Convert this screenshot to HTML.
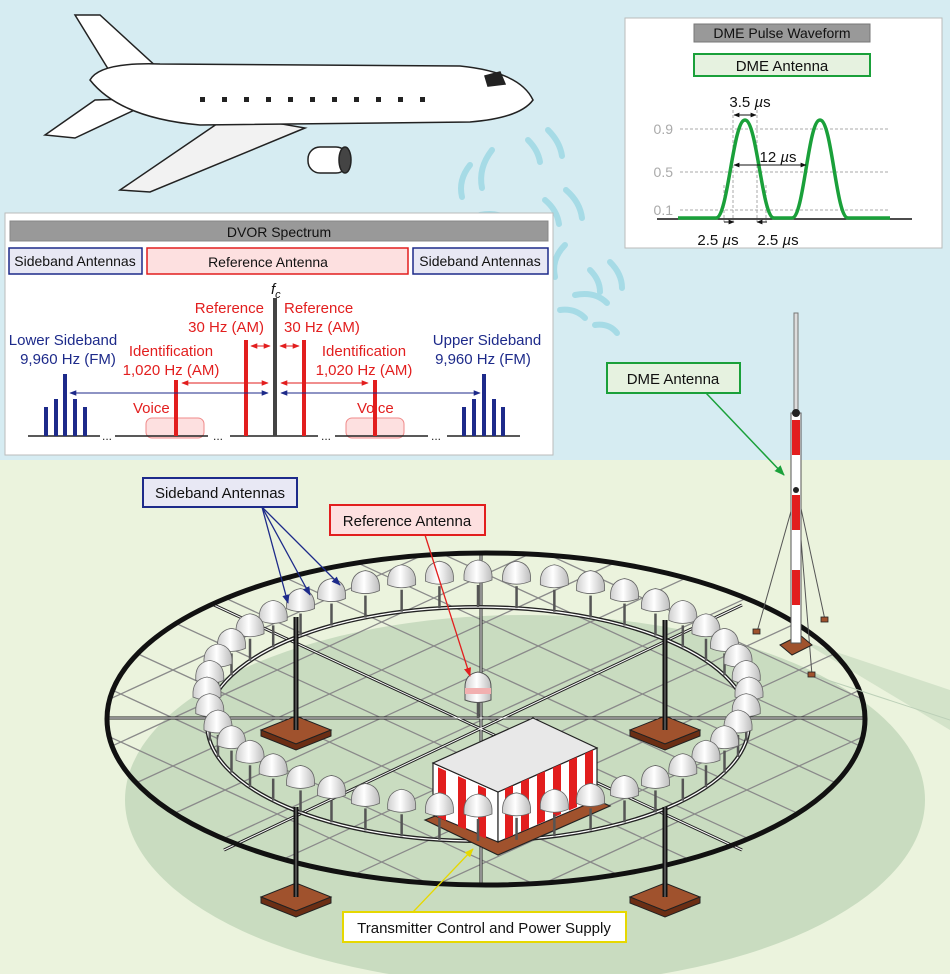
<!DOCTYPE html>
<html><head><meta charset="utf-8"><style>
html,body{margin:0;padding:0;width:950px;height:974px;overflow:hidden;}
body{font-family:"Liberation Sans",sans-serif;}
svg{display:block;}
text{font-family:"Liberation Sans",sans-serif;}
</style></head><body>
<svg id="s" width="950" height="974" viewBox="0 0 950 974" xmlns="http://www.w3.org/2000/svg">
<defs>
<marker id="ab" viewBox="0 0 10 10" refX="9" refY="5" markerWidth="7" markerHeight="7" orient="auto-start-reverse"><path d="M0,1 L10,5 L0,9 z" fill="#1d2a8a"/></marker>
<marker id="ar" viewBox="0 0 10 10" refX="9" refY="5" markerWidth="7" markerHeight="7" orient="auto-start-reverse"><path d="M0,1 L10,5 L0,9 z" fill="#e21e1e"/></marker>
<marker id="ag" viewBox="0 0 10 10" refX="9" refY="5" markerWidth="7" markerHeight="7" orient="auto-start-reverse"><path d="M0,1 L10,5 L0,9 z" fill="#1aa03a"/></marker>
<marker id="ay" viewBox="0 0 10 10" refX="9" refY="5" markerWidth="7" markerHeight="7" orient="auto-start-reverse"><path d="M0,1 L10,5 L0,9 z" fill="#e6d800"/></marker>
<marker id="ak" viewBox="0 0 10 10" refX="9" refY="5" markerWidth="6" markerHeight="6" orient="auto-start-reverse"><path d="M0,1 L10,5 L0,9 z" fill="#111"/></marker>
<clipPath id="oc"><ellipse cx="486" cy="719" rx="379" ry="166"/></clipPath>
<linearGradient id="dome" x1="0" x2="1"><stop offset="0" stop-color="#cfcfcf"/><stop offset="0.45" stop-color="#fff"/><stop offset="1" stop-color="#bdbdbd"/></linearGradient>
</defs>
<rect width="950" height="460" fill="#d6ecf2"/>
<rect y="460" width="950" height="514" fill="#ebf3dd"/>
<ellipse cx="525" cy="800" rx="400" ry="185" fill="#c9dcc0"/>
<path d="M800 640 L950 690 L950 730 Z" fill="#c9dcc0" opacity="0.7"/>
<!-- waves -->
<g fill="none" stroke="#a6dbe6" stroke-width="6" stroke-linecap="round">
<path d="M470 165 q-12 15 -8 32"/><path d="M492 150 q-14 18 -10 38"/>
<path d="M528 140 q10 10 12 22"/><path d="M548 130 q12 12 14 26"/>
<path d="M470 235 q15 -2 25 8"/><path d="M480 215 q20 -4 32 8"/>
<path d="M545 200 q12 10 14 24"/><path d="M566 190 q14 12 16 28"/>
<path d="M545 255 q-12 12 -8 28"/><path d="M565 245 q-14 14 -10 32"/>
<path d="M590 270 q10 10 10 22"/><path d="M610 262 q12 12 12 26"/>
<path d="M560 310 q15 -2 25 8"/><path d="M575 295 q20 -4 32 8"/>
<path d="M595 325 q14 -2 22 8"/>
</g>
<!-- airplane -->
<g stroke="#222" stroke-width="1.5" fill="#fff">
<path d="M230 115 L120 190 L150 192 L305 128 Z" fill="#f2f2f2"/>
<path d="M75 15 L100 15 L160 70 L110 72 Z"/>
<path d="M45 135 L95 100 L160 98 L75 138 Z"/>
<path d="M90 80 Q100 62 160 64 L460 66 Q520 72 533 100 Q520 118 470 122 L200 125 Q120 118 90 80 Z"/>
<rect x="308" y="147" width="40" height="26" rx="12"/>
<ellipse cx="345" cy="160" rx="6" ry="13" fill="#444"/>
<path d="M485 76 L500 72 L505 84 L488 86 Z" fill="#222"/>
</g>
<g fill="#222"><rect x="200" y="97" width="5" height="5"/><rect x="222" y="97" width="5" height="5"/><rect x="244" y="97" width="5" height="5"/><rect x="266" y="97" width="5" height="5"/><rect x="288" y="97" width="5" height="5"/><rect x="310" y="97" width="5" height="5"/><rect x="332" y="97" width="5" height="5"/><rect x="354" y="97" width="5" height="5"/><rect x="376" y="97" width="5" height="5"/><rect x="398" y="97" width="5" height="5"/><rect x="420" y="97" width="5" height="5"/></g>

<!-- DME box -->
<rect x="625" y="18" width="317" height="230" fill="#fff" stroke="#bbb"/>
<rect x="694" y="24" width="176" height="18" fill="#999" stroke="#777"/>
<text x="782" y="38" font-size="14" text-anchor="middle" fill="#111">DME Pulse Waveform</text>
<rect x="694" y="54" width="176" height="22" fill="#e6f2e0" stroke="#1aa03a" stroke-width="2"/>
<text x="782" y="71" font-size="15" text-anchor="middle" fill="#111">DME Antenna</text>
<g stroke="#aaa" stroke-dasharray="3,2" stroke-width="1"><line x1="680" y1="129" x2="890" y2="129"/><line x1="680" y1="172" x2="890" y2="172"/><line x1="680" y1="210" x2="890" y2="210"/><line x1="733" y1="110" x2="733" y2="222"/><line x1="757" y1="110" x2="757" y2="222"/><line x1="724" y1="185" x2="724" y2="222"/><line x1="766" y1="185" x2="766" y2="222"/></g>
<g fill="#aaa" font-size="14" text-anchor="end"><text x="673" y="134">0.9</text><text x="673" y="177">0.5</text><text x="673" y="215">0.1</text></g>
<line x1="657" y1="219" x2="912" y2="219" stroke="#111" stroke-width="1.5"/>
<path d="M678 218 L716 218 C728 218 733 120 745 120 C757 120 762 218 774 218 L792 218 C804 218 808 120 820 120 C832 120 836 218 848 218 L890 218" fill="none" stroke="#1aa03a" stroke-width="3.5"/>
<g stroke="#111" stroke-width="1"><line x1="734" y1="115" x2="756" y2="115" marker-start="url(#ak)" marker-end="url(#ak)"/><line x1="734" y1="165" x2="806" y2="165" marker-start="url(#ak)" marker-end="url(#ak)"/><line x1="724" y1="222" x2="734" y2="222" marker-end="url(#ak)"/><line x1="757" y1="222" x2="767" y2="222" marker-start="url(#ak)"/></g>
<g font-size="15" fill="#111" text-anchor="middle"><text x="750" y="107">3.5 <tspan font-style="italic">µ</tspan>s</text><text x="778" y="162">12 <tspan font-style="italic">µ</tspan>s</text><text x="718" y="245">2.5 <tspan font-style="italic">µ</tspan>s</text><text x="778" y="245">2.5 <tspan font-style="italic">µ</tspan>s</text></g>

<!-- DVOR spectrum box -->
<rect x="5" y="213" width="548" height="242" fill="#fff" stroke="#bbb"/>
<rect x="10" y="221" width="538" height="20" fill="#999" stroke="#888"/>
<text x="279" y="237" font-size="14" text-anchor="middle" fill="#111">DVOR Spectrum</text>
<rect x="9" y="248" width="133" height="26" fill="#e8e8f4" stroke="#1d2a8a" stroke-width="1.5"/>
<rect x="147" y="248" width="261" height="26" fill="#fde0e0" stroke="#e21e1e" stroke-width="1.5"/>
<rect x="413" y="248" width="135" height="26" fill="#e8e8f4" stroke="#1d2a8a" stroke-width="1.5"/>
<g font-size="14" fill="#111" text-anchor="middle"><text x="75" y="266">Sideband Antennas</text><text x="268" y="267">Reference Antenna</text><text x="480" y="266">Sideband Antennas</text></g>
<rect x="146" y="418" width="58" height="20" rx="6" fill="#fde0e0" stroke="#f08a8a"/>
<rect x="346" y="418" width="58" height="20" rx="6" fill="#fde0e0" stroke="#f08a8a"/>
<g stroke="#222" stroke-width="1.5"><line x1="28" y1="436" x2="100" y2="436"/><line x1="115" y1="436" x2="208" y2="436"/><line x1="230" y1="436" x2="318" y2="436"/><line x1="335" y1="436" x2="428" y2="436"/><line x1="447" y1="436" x2="520" y2="436"/></g>
<g font-size="12" fill="#222"><text x="102" y="440">...</text><text x="213" y="440">...</text><text x="321" y="440">...</text><text x="431" y="440">...</text></g>
<g fill="#1d2a8a"><rect x="44" y="407" width="4" height="29"/><rect x="54" y="399" width="4" height="37"/><rect x="63" y="374" width="4" height="62"/><rect x="73" y="399" width="4" height="37"/><rect x="83" y="407" width="4" height="29"/>
<rect x="462" y="407" width="4" height="29"/><rect x="472" y="399" width="4" height="37"/><rect x="482" y="374" width="4" height="62"/><rect x="492" y="399" width="4" height="37"/><rect x="501" y="407" width="4" height="29"/></g>
<g fill="#e21e1e"><rect x="174" y="380" width="4" height="56"/><rect x="244" y="340" width="4" height="96"/><rect x="302" y="340" width="4" height="96"/><rect x="373" y="380" width="4" height="56"/></g>
<rect x="273" y="298" width="4" height="138" fill="#444"/>
<text x="271" y="294" font-size="15" font-style="italic" fill="#111">f<tspan font-size="11" dy="4">c</tspan></text>
<g stroke="#1d2a8a" stroke-width="1"><line x1="70" y1="393" x2="268" y2="393" marker-start="url(#ab)" marker-end="url(#ab)"/><line x1="281" y1="393" x2="480" y2="393" marker-start="url(#ab)" marker-end="url(#ab)"/></g>
<g stroke="#e21e1e" stroke-width="1"><line x1="182" y1="383" x2="268" y2="383" marker-start="url(#ar)" marker-end="url(#ar)"/><line x1="281" y1="383" x2="368" y2="383" marker-start="url(#ar)" marker-end="url(#ar)"/><line x1="251" y1="346" x2="270" y2="346" marker-start="url(#ar)" marker-end="url(#ar)"/><line x1="280" y1="346" x2="299" y2="346" marker-start="url(#ar)" marker-end="url(#ar)"/></g>
<g font-size="15" fill="#e21e1e"><text x="264" y="313" text-anchor="end">Reference</text><text x="264" y="332" text-anchor="end">30 Hz (AM)</text><text x="284" y="313">Reference</text><text x="284" y="332">30 Hz (AM)</text>
<text x="171" y="356" text-anchor="middle">Identification</text><text x="171" y="375" text-anchor="middle">1,020 Hz (AM)</text><text x="364" y="356" text-anchor="middle">Identification</text><text x="364" y="375" text-anchor="middle">1,020 Hz (AM)</text>
<text x="133" y="413">Voice</text><text x="357" y="413">Voice</text></g>
<g font-size="15" fill="#1d2a8a" text-anchor="middle"><text x="63" y="345">Lower Sideband</text><text x="68" y="364">9,960 Hz (FM)</text><text x="487" y="345">Upper Sideband</text><text x="483" y="364">9,960 Hz (FM)</text></g>

<!-- ground structure -->
<g id="grid" clip-path="url(#oc)" stroke="#8a8a8a" stroke-width="1.3"></g>
<g stroke="#222" stroke-width="4" fill="none"><line x1="107" y1="718" x2="865" y2="718" stroke-width="3"/><line x1="481" y1="553" x2="481" y2="885" stroke-width="3"/><line x1="214" y1="605" x2="742" y2="850" stroke-width="3"/><line x1="742" y1="605" x2="224" y2="850" stroke-width="3"/></g>
<g stroke="#fff" stroke-width="1" fill="none"><line x1="107" y1="718" x2="865" y2="718"/><line x1="481" y1="553" x2="481" y2="885"/><line x1="214" y1="605" x2="742" y2="850"/><line x1="742" y1="605" x2="224" y2="850"/></g>
<ellipse cx="486" cy="719" rx="379" ry="166" fill="none" stroke="#111" stroke-width="5"/>
<ellipse cx="478" cy="724" rx="271" ry="117" fill="none" stroke="#222" stroke-width="4"/>
<ellipse cx="478" cy="724" rx="271" ry="117" fill="none" stroke="#fff" stroke-width="1.3"/>
<g id="bases"></g>
<!-- shelter -->
<g stroke="#222" stroke-width="1.2">
<path d="M425 820 L498 855 L610 806 L540 775 Z" fill="#a0522d"/>
<path d="M433 763 L498 792 L498 842 L433 815 Z" fill="#fff"/>
<path d="M498 792 L597 748 L597 800 L498 842 Z" fill="#fff"/>
<path d="M433 763 L533 718 L597 748 L498 792 Z" fill="#e8e8e8"/>
</g>
<g id="stripes" fill="#e21e1e"></g>
<g id="ring"></g>
<!-- reference antenna -->
<line x1="478" y1="700" x2="478" y2="718" stroke="#555" stroke-width="2.5"/>
<path d="M465 687 Q465 674 478 672 Q491 674 491 687 L491 700 Q478 705 465 700 Z" fill="url(#dome)" stroke="#555"/>
<rect x="465" y="688" width="26" height="6" fill="#f2b0b0"/>
<!-- DME tower -->
<g stroke="#555" stroke-width="1" fill="none"><line x1="797" y1="490" x2="757" y2="632"/><line x1="797" y1="490" x2="825" y2="620"/><line x1="797" y1="490" x2="812" y2="675"/><line x1="812" y1="675" x2="950" y2="720" stroke="#bcd0b8"/></g>
<path d="M780 645 L800 635 L812 645 L792 655 Z" fill="#a0522d" stroke="#222"/>
<rect x="794" y="313" width="4" height="100" fill="#ddd" stroke="#777"/>
<rect x="791" y="413" width="10" height="230" fill="#fff" stroke="#555"/>
<g fill="#e21e1e"><rect x="792" y="420" width="8" height="35"/><rect x="792" y="495" width="8" height="35"/><rect x="792" y="570" width="8" height="35"/></g>
<circle cx="796" cy="413" r="4" fill="#222"/><circle cx="796" cy="490" r="3" fill="#222"/>
<g fill="#a0522d" stroke="#222" stroke-width="0.8"><rect x="753" y="629" width="7" height="5"/><rect x="821" y="617" width="7" height="5"/><rect x="808" y="672" width="7" height="5"/></g>
<!-- labels -->
<rect x="607" y="363" width="133" height="30" fill="#e6f2e0" stroke="#1aa03a" stroke-width="2"/>
<text x="673" y="384" font-size="15" text-anchor="middle" fill="#111">DME Antenna</text>
<line x1="706" y1="393" x2="784" y2="475" stroke="#1aa03a" stroke-width="1.5" marker-end="url(#ag)"/>
<rect x="143" y="478" width="154" height="29" fill="#e8e8f4" stroke="#1d2a8a" stroke-width="2"/>
<text x="220" y="498" font-size="15" text-anchor="middle" fill="#111">Sideband Antennas</text>
<g stroke="#1d2a8a" stroke-width="1.3"><line x1="262" y1="507" x2="288" y2="603" marker-end="url(#ab)"/><line x1="262" y1="507" x2="310" y2="595" marker-end="url(#ab)"/><line x1="262" y1="507" x2="340" y2="585" marker-end="url(#ab)"/></g>
<rect x="330" y="505" width="155" height="30" fill="#fde0e0" stroke="#e21e1e" stroke-width="2"/>
<text x="407" y="526" font-size="15" text-anchor="middle" fill="#111">Reference Antenna</text>
<line x1="425" y1="535" x2="470" y2="676" stroke="#e21e1e" stroke-width="1.3" marker-end="url(#ar)"/>
<rect x="343" y="912" width="283" height="30" fill="#fff" stroke="#e6d800" stroke-width="2"/>
<text x="484" y="933" font-size="15" text-anchor="middle" fill="#111">Transmitter Control and Power Supply</text>
<line x1="413" y1="912" x2="473" y2="849" stroke="#e6d800" stroke-width="1.3" marker-end="url(#ay)"/>
</svg>
<script>
var NS="http://www.w3.org/2000/svg";
function el(p,t,a){var e=document.createElementNS(NS,t);for(var k in a)e.setAttribute(k,a[k]);p.appendChild(e);return e;}
var g=document.getElementById("grid");
for(var i=-20;i<20;i++){var c=i*48;
el(g,"line",{x1:0,y1:718+c-0.46*486,x2:950,y2:718+c+0.46*(950-486)});
el(g,"line",{x1:0,y1:718+c+0.46*486,x2:950,y2:718+c-0.46*(950-486)});}
var b=document.getElementById("bases");
[[296,617,730],[665,620,730],[296,807,897],[665,807,897]].forEach(function(p){
var x=p[0],y=p[2];
el(b,"path",{d:"M"+(x-35)+" "+(y)+" L"+x+" "+(y-14)+" L"+(x+35)+" "+y+" L"+x+" "+(y+14)+" Z",fill:"#a0522d",stroke:"#222"});
el(b,"path",{d:"M"+(x-35)+" "+y+" L"+x+" "+(y+14)+" L"+(x+35)+" "+y+" L"+(x+35)+" "+(y+6)+" L"+x+" "+(y+20)+" L"+(x-35)+" "+(y+6)+" Z",fill:"#6b2e14",stroke:"#222"});
el(b,"line",{x1:x,y1:p[1],x2:x,y2:y,stroke:"#111","stroke-width":5});
el(b,"line",{x1:x,y1:p[1],x2:x,y2:y,stroke:"#888","stroke-width":1});});
var s=document.getElementById("stripes");
for(var k=0;k<3;k++){var x=438+k*20;el(s,"path",{d:"M"+x+" "+(765+(x-433)*0.446)+" l8 3.6 l0 50 l-8 -3.6 Z"});}
for(var k=0;k<6;k++){var x=505+k*16;var yt=792-(x-498)*0.444;el(s,"path",{d:"M"+x+" "+yt+" l8 -3.5 l0 50 l-8 3.5 Z"});}
var r=document.getElementById("ring");var pts=[];var N=44;
for(var i=0;i<N;i++){var a=i/N*2*Math.PI;pts.push([478+271*Math.cos(a),724+117*Math.sin(a)]);}
pts.sort(function(p,q){return p[1]-q[1];});
pts.forEach(function(p){var x=p[0],y=p[1];
el(r,"line",{x1:x,y1:y,x2:x,y2:y-22,stroke:"#555","stroke-width":2.5});
el(r,"path",{d:"M"+(x-14)+" "+(y-32)+" Q"+(x-13)+" "+(y-45)+" "+x+" "+(y-47)+" Q"+(x+13)+" "+(y-45)+" "+(x+14)+" "+(y-32)+" L"+(x+14)+" "+(y-27)+" Q"+x+" "+(y-21)+" "+(x-14)+" "+(y-27)+" Z",fill:"url(#dome)",stroke:"#666","stroke-width":0.8});});
</script>
</body></html>
